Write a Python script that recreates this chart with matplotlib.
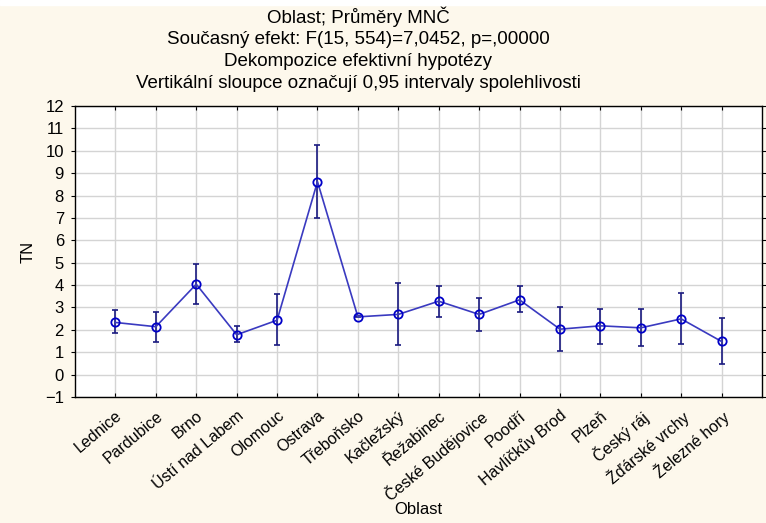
import numpy as np
import matplotlib
matplotlib.use('Agg')
import matplotlib.pyplot as plt

plt.rcParams['font.family'] = ['Liberation Sans', 'DejaVu Sans']

oblasti = ['Lednice', 'Pardubice', 'Brno', 'Ústí nad Labem', 'Olomouc', 'Ostrava',
           'Třeboňsko', 'Kačležský', 'Řežabinec', 'České Budějovice', 'Poodří',
           'Havlíčkův Brod', 'Plzeň', 'Český ráj', 'Žďárské vrchy', 'Železné hory']
prumer = [2.33, 2.14, 4.04, 1.78, 2.43, 8.62, 2.58, 2.69, 3.28, 2.69, 3.34,
          2.03, 2.18, 2.09, 2.49, 1.48]
horni = [2.89, 2.80, 4.96, 2.15, 3.62, 10.24, 2.60, 4.11, 3.95, 3.44, 3.95,
         3.04, 2.95, 2.95, 3.66, 2.55]
dolni = [1.84, 1.44, 3.15, 1.44, 1.31, 7.00, 2.56, 1.31, 2.58, 1.96, 2.80,
         1.05, 1.39, 1.26, 1.39, 0.46]

bg = '#fdf8ec'
fig = plt.figure(figsize=(7.66, 5.23), dpi=100, facecolor=bg)
ax = fig.add_axes([75/766, 1-397/523, (762-75)/766, (397-106)/523])
ax.set_facecolor('white')

x = np.arange(1, len(oblasti) + 1)
y = np.array(prumer)
err = [y - np.array(dolni), np.array(horni) - y]

ax.errorbar(x, y, yerr=err, fmt='none', ecolor='#1a1a80', elinewidth=1.2,
            capsize=2.5, capthick=1.2, zorder=3)
ax.plot(x, y, color='#3a3ac0', lw=1.2, zorder=4)
ax.plot(x, y, 'o', mfc='none', mec='#0000c8', mew=1.3, ms=6, zorder=5)

ax.set_xlim(0, len(oblasti) + 1)
ax.set_ylim(-1, 12)
ax.set_yticks(range(-1, 13))
ax.set_xticks(x)
ax.set_xticklabels(oblasti, rotation=40, ha='right', rotation_mode='anchor', fontsize=11.5)
ax.tick_params(axis='y', labelsize=12, direction='out', length=3, pad=5)
ax.tick_params(axis='x', direction='in', length=3, pad=8, top=True)
ax.tick_params(axis='y', which='both', right=True)
ax.grid(True, color='#d4d4d4', lw=1)
ax.set_axisbelow(True)
for s in ax.spines.values():
    s.set_color('black')
    s.set_linewidth(1)

ax.set_ylabel('TN', fontsize=12, labelpad=7)
fig.text(418/766, 1-510/523, 'Oblast', ha='center', va='center', fontsize=12)

titulky = ['Oblast; Průměry MNČ',
           'Současný efekt: F(15, 554)=7,0452, p=,00000',
           'Dekompozice efektivní hypotézy',
           'Vertikální sloupce označují 0,95 intervaly spolehlivosti']
for i, t in enumerate(titulky):
    fig.text(358/766, 1-(17 + 22*i)/523, t, ha='center', va='center', fontsize=13.5)

# white strip at the very top (scan edge)
fig.patches.append(plt.Rectangle((0, 1-5/523), 1, 5/523, transform=fig.transFigure,
                                 color='white', zorder=0))

fig.savefig('out.png', dpi=100, facecolor=bg)
